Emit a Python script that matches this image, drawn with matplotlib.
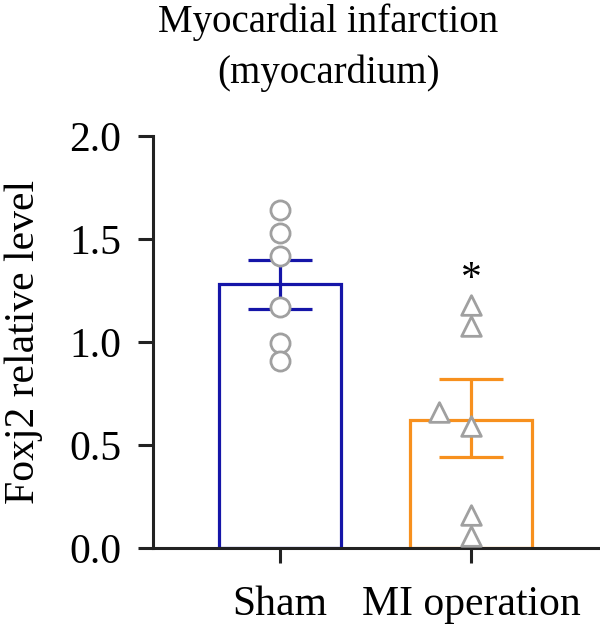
import matplotlib.pyplot as plt

# Values
groups = ["Sham", "MI operation"]
means = [1.28, 0.62]
err_low = [1.16, 0.44]
err_high = [1.40, 0.82]
sham_points = [1.64, 1.53, 1.42, 1.17, 0.995, 0.91]
mi_points = [1.18, 1.08, 0.66, 0.59, 0.16, 0.06]
mi_offsets = [0, 0, -0.17, 0, 0, 0]
star_y = 1.30

bar_colors = ["#1515A8", "#F7901E"]
point_color = "#A0A0A0"

plt.rcParams["font.family"] = ["Liberation Serif", "DejaVu Serif"]
plt.rcParams["font.size"] = 30

fig = plt.figure(figsize=(6, 6.27), dpi=100)
ax = fig.add_axes([0.255, 0.126, 0.745, 0.657])

x = [0, 1]
ax.bar(x, means, width=0.64, facecolor="white", edgecolor=bar_colors, linewidth=2.3, zorder=2)
for i in range(2):
    ax.errorbar(x[i], means[i],
                yerr=[[means[i] - err_low[i]], [err_high[i] - means[i]]],
                color=bar_colors[i], capsize=23, capthick=2.3, elinewidth=2.3, zorder=3)

ax.scatter([0] * len(sham_points), sham_points, s=190, marker="o",
           facecolor="white", edgecolor=point_color, linewidth=2, zorder=4)
ax.scatter([1 + o for o in mi_offsets], mi_points, s=200, marker="^",
           facecolor="white", edgecolor=point_color, linewidth=2, zorder=4)
ax.text(1, star_y, "*", ha="center", va="center", fontsize=30)

ax.set_xlim(-0.665, 1.675)
ax.set_ylim(0, 2.0)
ax.set_yticks([0, 0.5, 1.0, 1.5, 2.0])
ax.set_yticklabels(["0.0", "0.5", "1.0", "1.5", "2.0"])
ax.set_xticks(x)
ax.set_xticklabels(groups)
ax.set_ylabel("Foxj2 relative level", labelpad=19)

for side in ["top", "right"]:
    ax.spines[side].set_visible(False)
for side in ["left", "bottom"]:
    ax.spines[side].set_linewidth(2.2)
    ax.spines[side].set_color("#222222")
ax.tick_params(width=2.2, length=11, color="#222222")
ax.tick_params(axis="y", pad=12)
ax.tick_params(axis="x", pad=16)

fig.text(0.547, 0.995, "Myocardial infarction\n(myocardium)", ha="center", va="top",
         fontsize=28, linespacing=1.5)

fig.savefig("out.png", dpi=100)
